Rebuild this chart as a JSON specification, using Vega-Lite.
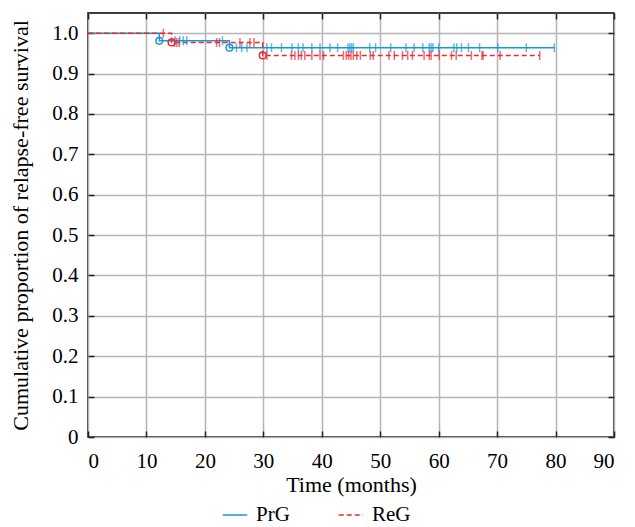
{
  "$schema": "https://vega.github.io/schema/vega-lite/v6.json",
  "width": 526,
  "height": 424,
  "autosize": "none",
  "padding": {"left": 88, "top": 13, "right": 21, "bottom": 90},
  "background": "white",
  "config": {
    "font": "Liberation Serif",
    "view": {"stroke": "black", "strokeWidth": 1.5},
    "axis": {
      "labelFont": "Liberation Serif",
      "titleFont": "Liberation Serif",
      "labelFontSize": 21,
      "titleFontSize": 22,
      "labelColor": "black",
      "titleColor": "black",
      "titleFontWeight": "normal",
      "domainColor": "black",
      "domainWidth": 1.5,
      "tickColor": "#222222",
      "tickWidth": 1.5,
      "tickSize": -6,
      "gridColor": "#b5b5b5",
      "gridWidth": 1.5
    },
    "legend": {
      "labelFont": "Liberation Serif",
      "labelFontSize": 21,
      "labelColor": "black"
    }
  },
  "datasets": {
    "curve": [
      {"group": "PrG", "t": 0, "s": 1.0},
      {"group": "PrG", "t": 12.2, "s": 0.981},
      {"group": "PrG", "t": 24.2, "s": 0.964},
      {"group": "PrG", "t": 79.8, "s": 0.964},
      {"group": "ReG", "t": 0, "s": 1.0},
      {"group": "ReG", "t": 14.3, "s": 0.977},
      {"group": "ReG", "t": 29.9, "s": 0.945},
      {"group": "ReG", "t": 77.3, "s": 0.945}
    ],
    "events": [
      {"group": "PrG", "t": 12.2, "s": 0.981},
      {"group": "PrG", "t": 24.2, "s": 0.964},
      {"group": "ReG", "t": 14.3, "s": 0.977},
      {"group": "ReG", "t": 29.9, "s": 0.945}
    ],
    "censor": [
      {"group": "ReG", "t": 12.9, "s": 1.0},
      {"group": "ReG", "t": 14.8, "s": 0.977},
      {"group": "ReG", "t": 15.2, "s": 0.977},
      {"group": "ReG", "t": 15.6, "s": 0.977},
      {"group": "ReG", "t": 22.0, "s": 0.977},
      {"group": "ReG", "t": 22.5, "s": 0.977},
      {"group": "ReG", "t": 26.0, "s": 0.977},
      {"group": "ReG", "t": 27.7, "s": 0.977},
      {"group": "ReG", "t": 28.4, "s": 0.977},
      {"group": "ReG", "t": 30.6, "s": 0.945},
      {"group": "ReG", "t": 34.8, "s": 0.945},
      {"group": "ReG", "t": 35.4, "s": 0.945},
      {"group": "ReG", "t": 36.0, "s": 0.945},
      {"group": "ReG", "t": 36.5, "s": 0.945},
      {"group": "ReG", "t": 37.1, "s": 0.945},
      {"group": "ReG", "t": 38.3, "s": 0.945},
      {"group": "ReG", "t": 39.7, "s": 0.945},
      {"group": "ReG", "t": 40.3, "s": 0.945},
      {"group": "ReG", "t": 43.7, "s": 0.945},
      {"group": "ReG", "t": 44.2, "s": 0.945},
      {"group": "ReG", "t": 44.6, "s": 0.945},
      {"group": "ReG", "t": 45.0, "s": 0.945},
      {"group": "ReG", "t": 45.4, "s": 0.945},
      {"group": "ReG", "t": 46.0, "s": 0.945},
      {"group": "ReG", "t": 46.6, "s": 0.945},
      {"group": "ReG", "t": 48.3, "s": 0.945},
      {"group": "ReG", "t": 48.8, "s": 0.945},
      {"group": "ReG", "t": 51.5, "s": 0.945},
      {"group": "ReG", "t": 52.4, "s": 0.945},
      {"group": "ReG", "t": 53.8, "s": 0.945},
      {"group": "ReG", "t": 54.7, "s": 0.945},
      {"group": "ReG", "t": 55.5, "s": 0.945},
      {"group": "ReG", "t": 57.5, "s": 0.945},
      {"group": "ReG", "t": 58.4, "s": 0.945},
      {"group": "ReG", "t": 58.7, "s": 0.945},
      {"group": "ReG", "t": 60.1, "s": 0.945},
      {"group": "ReG", "t": 62.2, "s": 0.945},
      {"group": "ReG", "t": 63.0, "s": 0.945},
      {"group": "ReG", "t": 65.6, "s": 0.945},
      {"group": "ReG", "t": 67.4, "s": 0.945},
      {"group": "ReG", "t": 67.6, "s": 0.945},
      {"group": "ReG", "t": 70.5, "s": 0.945},
      {"group": "ReG", "t": 77.3, "s": 0.945},
      {"group": "PrG", "t": 14.9, "s": 0.981},
      {"group": "PrG", "t": 15.7, "s": 0.981},
      {"group": "PrG", "t": 16.3, "s": 0.981},
      {"group": "PrG", "t": 16.9, "s": 0.981},
      {"group": "PrG", "t": 23.0, "s": 0.981},
      {"group": "PrG", "t": 25.4, "s": 0.964},
      {"group": "PrG", "t": 26.3, "s": 0.964},
      {"group": "PrG", "t": 27.2, "s": 0.964},
      {"group": "PrG", "t": 30.6, "s": 0.964},
      {"group": "PrG", "t": 31.4, "s": 0.964},
      {"group": "PrG", "t": 33.1, "s": 0.964},
      {"group": "PrG", "t": 34.9, "s": 0.964},
      {"group": "PrG", "t": 36.0, "s": 0.964},
      {"group": "PrG", "t": 36.8, "s": 0.964},
      {"group": "PrG", "t": 38.3, "s": 0.964},
      {"group": "PrG", "t": 39.7, "s": 0.964},
      {"group": "PrG", "t": 41.4, "s": 0.964},
      {"group": "PrG", "t": 42.7, "s": 0.964},
      {"group": "PrG", "t": 44.5, "s": 0.964},
      {"group": "PrG", "t": 44.8, "s": 0.964},
      {"group": "PrG", "t": 45.1, "s": 0.964},
      {"group": "PrG", "t": 45.4, "s": 0.964},
      {"group": "PrG", "t": 48.2, "s": 0.964},
      {"group": "PrG", "t": 49.2, "s": 0.964},
      {"group": "PrG", "t": 51.8, "s": 0.964},
      {"group": "PrG", "t": 54.4, "s": 0.964},
      {"group": "PrG", "t": 55.8, "s": 0.964},
      {"group": "PrG", "t": 57.3, "s": 0.964},
      {"group": "PrG", "t": 58.4, "s": 0.964},
      {"group": "PrG", "t": 58.7, "s": 0.964},
      {"group": "PrG", "t": 59.0, "s": 0.964},
      {"group": "PrG", "t": 60.0, "s": 0.964},
      {"group": "PrG", "t": 62.6, "s": 0.964},
      {"group": "PrG", "t": 63.1, "s": 0.964},
      {"group": "PrG", "t": 63.9, "s": 0.964},
      {"group": "PrG", "t": 65.1, "s": 0.964},
      {"group": "PrG", "t": 67.0, "s": 0.964},
      {"group": "PrG", "t": 70.1, "s": 0.964},
      {"group": "PrG", "t": 75.0, "s": 0.964},
      {"group": "PrG", "t": 79.8, "s": 0.964}
    ]
  },
  "layer": [
    {
      "data": {"name": "curve"},
      "mark": {"type": "line", "interpolate": "step-after", "strokeWidth": 1.5},
      "encoding": {
        "x": {
          "field": "t", "type": "quantitative",
          "scale": {"domain": [0, 90], "nice": false},
          "axis": {"orient": "bottom", "title": "Time (months)", "values": [0,10,20,30,40,50,60,70,80,90], "labelPadding": 19, "titlePadding": 3, "domain": false}
        },
        "y": {
          "field": "s", "type": "quantitative",
          "scale": {"domain": [0, 1.05], "nice": false, "zero": false},
          "axis": {"orient": "left", "title": "Cumulative proportion of relapse-free survival", "values": [0,0.1,0.2,0.3,0.4,0.5,0.6,0.7,0.8,0.9,1.0], "format": ".1f", "labelExpr": "datum.value == 0 ? '0' : datum.label", "labelPadding": 16, "titlePadding": 19, "domain": false}
        },
        "color": {
          "field": "group", "type": "nominal",
          "scale": {"domain": ["PrG", "ReG"], "range": ["#1b97d5", "#ec2a31"]},
          "legend": {"orient": "none", "legendX": 134, "legendY": 489, "direction": "horizontal", "title": null, "symbolType": "stroke", "symbolSize": 600, "symbolStrokeWidth": 1.5, "columnPadding": 45, "labelOffset": 8}
        },
        "strokeDash": {
          "field": "group", "type": "nominal",
          "scale": {"domain": ["PrG", "ReG"], "range": [[1, 0], [5, 3]]},
          "legend": {"orient": "none", "legendX": 134, "legendY": 489, "direction": "horizontal", "title": null, "symbolType": "stroke", "symbolSize": 600, "symbolStrokeWidth": 1.5, "columnPadding": 45, "labelOffset": 8}
        }
      }
    },
    {
      "data": {"name": "censor"},
      "mark": {"type": "tick", "orient": "vertical", "size": 9, "thickness": 1.5},
      "encoding": {
        "x": {"field": "t", "type": "quantitative", "axis": {"orient": "top", "labels": false, "title": null, "grid": false, "domain": false, "values": [0,10,20,30,40,50,60,70,80,90]}},
        "y": {"field": "s", "type": "quantitative", "axis": {"orient": "right", "labels": false, "title": null, "grid": false, "domain": false, "values": [0,0.1,0.2,0.3,0.4,0.5,0.6,0.7,0.8,0.9,1.0]}},
        "fill": {"field": "group", "type": "nominal", "scale": {"domain": ["PrG", "ReG"], "range": ["#1b97d5", "#ec2a31"]}, "legend": null}
      }
    },
    {
      "data": {"name": "events"},
      "mark": {"type": "point", "filled": false, "size": 45, "strokeWidth": 1.5, "opacity": 1},
      "encoding": {
        "x": {"field": "t", "type": "quantitative", "axis": null},
        "y": {"field": "s", "type": "quantitative", "axis": null},
        "stroke": {"field": "group", "type": "nominal", "scale": {"domain": ["PrG", "ReG"], "range": ["#1b97d5", "#ec2a31"]}, "legend": null}
      }
    }
  ],
  "resolve": {"axis": {"x": "independent", "y": "independent"}}
}
